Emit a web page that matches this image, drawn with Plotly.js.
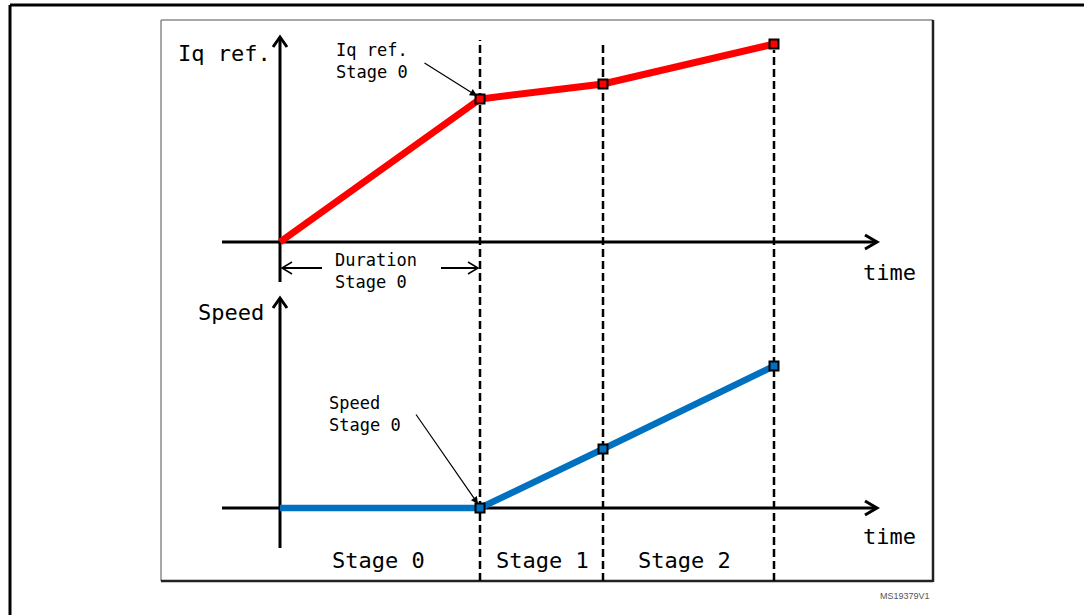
<!DOCTYPE html>
<html>
<head>
<meta charset="utf-8">
<script src="https://cdn.plot.ly/plotly-3.0.1.min.js"></script>
<style>html,body{margin:0;padding:0;background:#fff;}#chart{width:1084px;height:615px;}</style>
</head>
<body>
<div id="chart"></div>
<script>
// ---- data (arbitrary units) ----
var times = [0, 2.00, 3.23, 4.94];          // stage boundaries on the time axis
var iqRef = [0, 143, 158, 198];             // Iq reference
var speed = [0, 0, 59, 142];                // speed
var stageLabels = ['Stage 0', 'Stage 1', 'Stage 2'];
var axisTitles = {iq: 'Iq ref.', speed: 'Speed', time: 'time'};
var calloutIq = 'Iq ref.<br>Stage 0';
var calloutSpeed = 'Speed<br>Stage 0';
var calloutDuration = 'Duration<br>Stage 0';
var figId = 'MS19379V1';

var W = 1084, H = 615;
function P(px){ return px / W; }
function Q(py){ return 1 - py / H; }
var MONO = 'DejaVu Sans Mono, monospace';

var traces = [
  {x: times, y: iqRef, xaxis: 'x', yaxis: 'y', mode: 'lines',
   line: {color: '#ff0000', width: 7}, hoverinfo: 'skip'},
  {x: times.slice(1), y: iqRef.slice(1), xaxis: 'x', yaxis: 'y', mode: 'markers',
   marker: {symbol: 'square', size: 9, color: '#ff0000', line: {color: '#000', width: 2}}, hoverinfo: 'skip'},
  {x: times, y: speed, xaxis: 'x', yaxis: 'y2', mode: 'lines',
   line: {color: '#0070c0', width: 6.5}, hoverinfo: 'skip'},
  {x: times.slice(1), y: speed.slice(1), xaxis: 'x', yaxis: 'y2', mode: 'markers',
   marker: {symbol: 'square', size: 9, color: '#0070c0', line: {color: '#000', width: 2}}, hoverinfo: 'skip'}
];

var shapes = [];
function line(x0,y0,x1,y1,w,c,dash){
  shapes.push({type:'line', xref:'paper', yref:'paper', x0:P(x0), y0:Q(y0), x1:P(x1), y1:Q(y1),
    line:{color:c||'#000', width:w||3, dash:dash||'solid'}, layer:'below'});
}
function chev(pts,w){
  var d = 'M' + pts.map(function(p){ return P(p[0]) + ',' + Q(p[1]); }).join(' L');
  shapes.push({type:'path', xref:'paper', yref:'paper', path:d, line:{color:'#000', width:w||3}, layer:'below'});
}
// outer figure frame
line(10, 5, 1084, 5, 3, '#000');
line(10, 5, 10, 615, 3, '#000');
// inner frame
line(161, 20, 933, 20, 1.5, '#8a8a8a');
line(161, 20, 161, 581, 1.5, '#8a8a8a');
line(933, 20, 933, 582, 2.5, '#222');
line(161, 581, 933, 581, 2.5, '#222');
// top axes
line(222, 242, 876, 242, 3);
chev([[865,235],[877,242],[865,249]], 3);
line(280, 282, 280, 38, 3);
chev([[273,47],[280,37],[287,47]], 3);
// bottom axes
line(222, 508, 876, 508, 3);
chev([[865,501],[877,508],[865,515]], 3);
line(280, 548, 280, 299, 3);
chev([[273,308],[280,298],[287,308]], 3);
// dashed stage boundaries (at data times)
var dashTop = [40, 42, 50];
for (var i = 1; i < times.length; i++) {
  shapes.push({type:'line', xref:'x', yref:'paper', x0:times[i], x1:times[i], y0:Q(581), y1:Q(dashTop[i-1]),
    line:{color:'#000', width:2.5, dash:'8px,4px'}, layer:'below'});
}
// duration arrows
line(283, 268, 322, 268, 2);
chev([[292,262],[282,268],[292,274]], 1.5);
line(441, 268, 477, 268, 2);
chev([[468,262],[478,268],[468,274]], 1.5);

function txt(t, x, y, size, anchor){
  return {text:t, xref:'paper', yref:'paper', x:P(x), y:Q(y), xanchor:anchor||'left', yanchor:'middle',
    showarrow:false, align:'left', font:{family:MONO, size:size, color:'#000'}};
}
var annotations = [
  txt(axisTitles.iq, 176, 54, 22),
  txt(axisTitles.speed, 196, 312, 22),
  txt(axisTitles.time, 861, 273, 22),
  txt(axisTitles.time, 861, 536, 22),
  txt(calloutIq, 334, 61, 17),
  txt(calloutDuration, 333, 271, 17),
  txt(calloutSpeed, 327, 414, 17),
  txt(stageLabels[0], 378, 560, 22, 'center'),
  txt(stageLabels[1], 542, 560, 22, 'center'),
  txt(stageLabels[2], 684, 560, 22, 'center'),
  {text:figId, xref:'paper', yref:'paper', x:P(932), y:Q(596), xanchor:'right', yanchor:'middle',
   showarrow:false, font:{family:'Liberation Sans, Arial', size:9, color:'#555'}},
  {text:'', xref:'paper', yref:'paper', x:P(477), y:Q(96), ax:423-477, ay:62-96, axref:'pixel', ayref:'pixel',
   showarrow:true, arrowhead:2, arrowsize:1.2, arrowwidth:1.2, arrowcolor:'#000'},
  {text:'', xref:'paper', yref:'paper', x:P(478), y:Q(504), ax:415-478, ay:413-504, axref:'pixel', ayref:'pixel',
   showarrow:true, arrowhead:2, arrowsize:1.2, arrowwidth:1.2, arrowcolor:'#000'}
];

var layout = {
  width: W, height: H,
  margin: {l:0, r:0, t:0, b:0},
  paper_bgcolor: '#fff', plot_bgcolor: 'rgba(0,0,0,0)',
  showlegend: false,
  xaxis: {domain:[0,1], range:[-2.8, 8.04], visible:false, fixedrange:true},
  yaxis: {domain:[0.5,1], range:[-65.5, 242], visible:false, fixedrange:true},
  yaxis2: {domain:[0,0.5], range:[-107, 200.5], visible:false, fixedrange:true, anchor:'x'},
  shapes: shapes,
  annotations: annotations
};
Plotly.newPlot('chart', traces, layout, {staticPlot:true, displayModeBar:false});
</script>
</body>
</html>
